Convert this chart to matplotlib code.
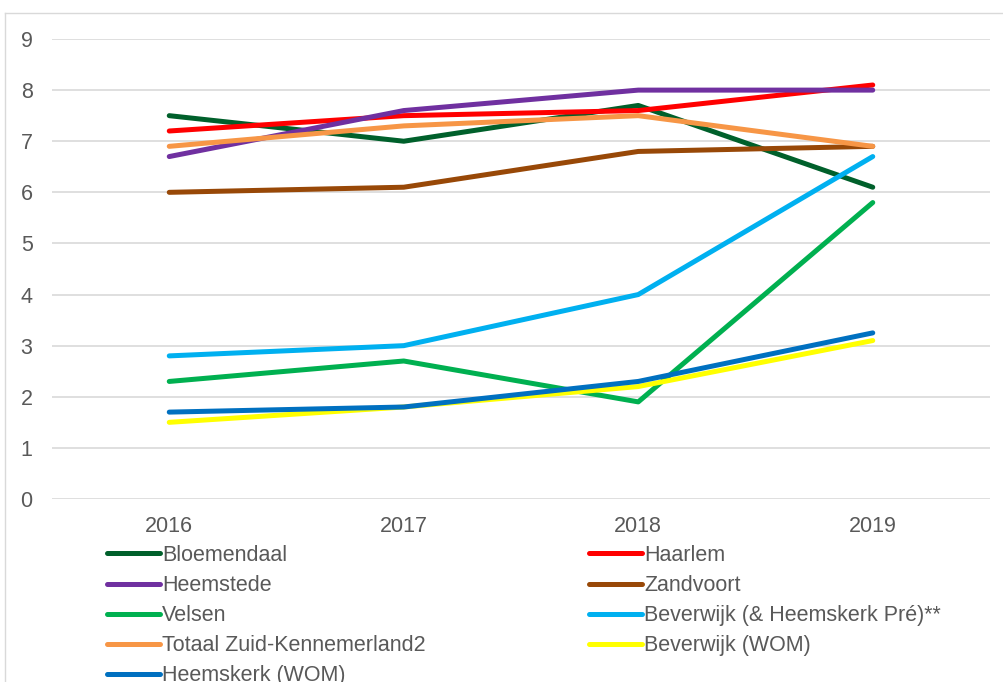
import matplotlib.pyplot as plt
from matplotlib.lines import Line2D

plt.rcParams['font.family'] = ['Liberation Sans', 'DejaVu Sans']

years = ['2016', '2017', '2018', '2019']

bloemendaal = [7.5, 7.0, 7.7, 6.1]
haarlem = [7.2, 7.5, 7.6, 8.1]
heemstede = [6.7, 7.6, 8.0, 8.0]
zandvoort = [6.0, 6.1, 6.8, 6.9]
velsen = [2.3, 2.7, 1.9, 5.8]
beverwijk_pre = [2.8, 3.0, 4.0, 6.7]
totaal = [6.9, 7.3, 7.5, 6.9]
beverwijk_wom = [1.5, 1.8, 2.2, 3.1]
heemskerk_wom = [1.7, 1.8, 2.3, 3.25]

# (label, values, colour), drawn in this order
series = [
    ('Bloemendaal', bloemendaal, '#00602b'),
    ('Haarlem', haarlem, '#ff0000'),
    ('Heemstede', heemstede, '#7030a0'),
    ('Zandvoort', zandvoort, '#984807'),
    ('Velsen', velsen, '#00b050'),
    ('Beverwijk (& Heemskerk Pré)**', beverwijk_pre, '#00b0f0'),
    ('Totaal Zuid-Kennemerland2', totaal, '#f79646'),
    ('Beverwijk (WOM)', beverwijk_wom, '#ffff00'),
    ('Heemskerk (WOM)', heemskerk_wom, '#0070c0'),
]

fig = plt.figure(figsize=(10.04, 6.82), dpi=100)
ax = fig.add_axes([52 / 1004, 1 - 499 / 682, 938 / 1004, 460 / 682])

x = list(range(len(years)))
handles = {}
for label, vals, col in series:
    ln, = ax.plot(x, vals, color=col, lw=3.6, solid_capstyle='round',
                  solid_joinstyle='round')
    handles[label] = ln

ax.set_xlim(-0.5, 3.5)
ax.set_ylim(0, 9)
ax.set_yticks(range(0, 10))
ax.set_xticks(x)
ax.set_xticklabels(years)
ax.yaxis.grid(True, color='#d9d9d9', lw=1.2)
ax.set_axisbelow(True)
for s in ax.spines.values():
    s.set_visible(False)
ax.tick_params(length=0, labelsize=15.5, colors='#595959')
ax.tick_params(axis='y', pad=14)
ax.tick_params(axis='x', pad=12)

# two legend columns, row-wise order like the original
labels = [s[0] for s in series]
col1 = labels[0::2]
col2 = labels[1::2]
for names, xpos in ((col1, 107 / 1004), (col2, 589 / 1004)):
    leg = fig.legend([handles[n] for n in names], names, loc='upper left',
                     bbox_to_anchor=(xpos, 1 - 545 / 682), frameon=False,
                     fontsize=15.5, handlelength=2.45, handletextpad=0.1,
                     labelspacing=0.42, borderpad=0, borderaxespad=0)
    for t in leg.get_texts():
        t.set_color('#595959')

# outer frame lines (left and top)
fig.add_artist(Line2D([5 / 1004, 5 / 1004], [0, 1 - 13 / 682],
                      transform=fig.transFigure, color='#d9d9d9', lw=1))
fig.add_artist(Line2D([5 / 1004, 1], [1 - 13 / 682, 1 - 13 / 682],
                      transform=fig.transFigure, color='#d9d9d9', lw=1))

fig.savefig('out.png', dpi=100, facecolor='white')
